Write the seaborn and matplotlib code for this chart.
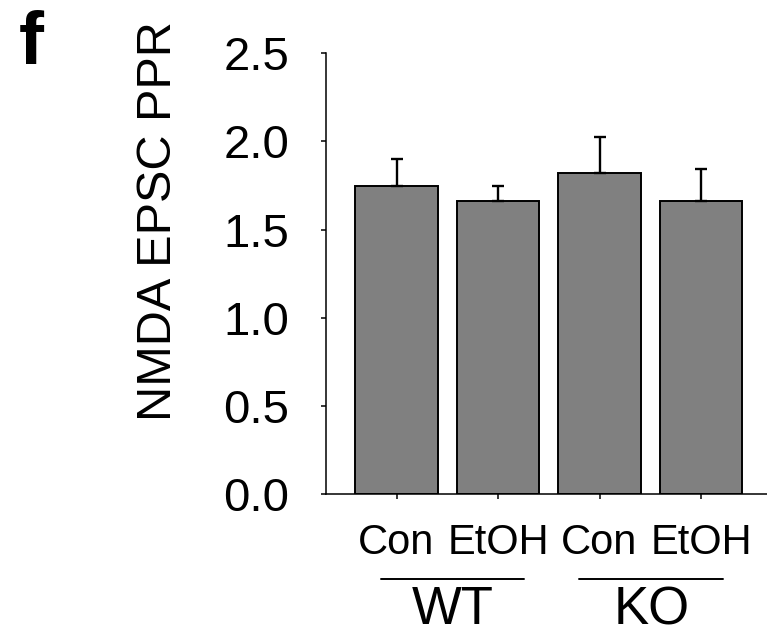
import matplotlib
matplotlib.use("Agg")
import matplotlib.pyplot as plt
import matplotlib.transforms as mtransforms
import seaborn as sns
import numpy as np

# Paired-pulse ratio of NMDA EPSCs, mean and SEM per condition
conditions = ["WT Con", "WT EtOH", "KO Con", "KO EtOH"]
tick_labels = ["Con", "EtOH", "Con", "EtOH"]
genotypes = ["WT", "KO"]
ppr_mean = [1.75, 1.66, 1.82, 1.66]
ppr_sem = [0.15, 0.09, 0.205, 0.185]
y_ticks = [0.0, 0.5, 1.0, 1.5, 2.0, 2.5]

sns.set_style("ticks")
plt.rcParams["font.family"] = ["Liberation Sans", "DejaVu Sans"]

W, H = 767, 636
fig = plt.figure(figsize=(W / 100, H / 100), dpi=100)
ax = fig.add_axes([326 / W, 1 - 494 / H, (W - 326) / W, (494 - 53.3) / H])

sns.barplot(x=conditions, y=ppr_mean, order=conditions, color="#808080",
            saturation=1, width=0.81, edgecolor="black", linewidth=1.4,
            errorbar=None, ax=ax)

# upward-only SEM bars
xpos = np.arange(len(conditions))
ax.errorbar(xpos, ppr_mean, yerr=[np.zeros(len(ppr_sem)), ppr_sem],
            fmt="none", ecolor="black", elinewidth=1.7, capsize=4.5,
            capthick=1.7, zorder=3)

ax.set_ylim(0, 2.5)
ax.set_xlim(-0.695, 3.65)
ax.set_yticks(y_ticks)
ax.set_yticklabels([f"{v:.1f}" for v in y_ticks])
ax.set_xticks(xpos)
ax.set_xticklabels(tick_labels)
ax.set_xlabel("")

for side in ["top", "right"]:
    ax.spines[side].set_visible(False)
for side in ["left", "bottom"]:
    ax.spines[side].set_linewidth(1.1)
    ax.spines[side].set_color("black")

ax.tick_params(axis="y", direction="out", length=3.6, width=1.1,
               labelsize=34, pad=23, colors="black")
ax.tick_params(axis="x", direction="out", length=3.6, width=1.1,
               labelsize=30, pad=17, colors="black")

ax.set_ylabel("NMDA EPSC PPR", fontsize=35, color="black")
ax.yaxis.label.set_va("center")
ax.yaxis.set_label_coords(-0.38, 0.619)

# genotype group lines and labels under the condition labels
trans = mtransforms.blended_transform_factory(ax.transData, ax.transAxes)
group_spans = [(-0.15, 1.26), (1.80, 3.22)]
for name, (x0, x1) in zip(genotypes, group_spans):
    ax.plot([x0, x1], [-0.193, -0.193], color="black", lw=1.4,
            transform=trans, clip_on=False)
    ax.text((x0 + x1) / 2, -0.207, name, transform=trans, ha="center",
            va="top", fontsize=38, color="black")

fig.text(19 / W, 1 - 10 / H, "f", fontsize=54, fontweight="bold",
         ha="left", va="top", color="black")

fig.savefig("out.png", dpi=100, facecolor="white")
